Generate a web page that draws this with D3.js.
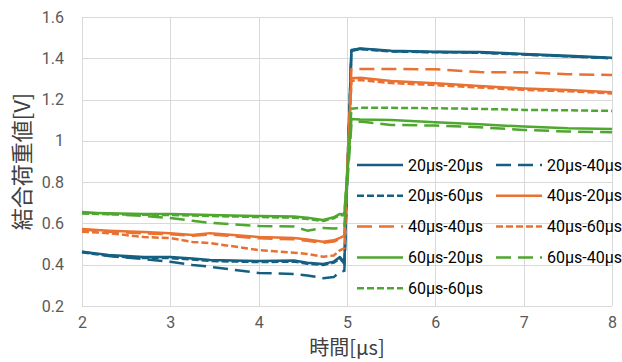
<!DOCTYPE html>
<html>
<head>
<meta charset="utf-8">
<script src="https://cdn.jsdelivr.net/npm/d3@7"></script>
<style>
  body { margin: 0; background: #fff; }
  svg { display: block; }
</style>
</head>
<body>
<div id="chart"></div>
<script>
// time axis [µs], shared by all series
var xs = [2, 2.3, 2.7, 3, 3.25, 3.45, 4, 4.4, 4.55, 4.73, 4.85, 4.92, 4.97,
  5.05, 5.15, 5.5, 6, 6.5, 7, 7.5, 8];

var names = ['20μs-20μs', '20μs-40μs', '20μs-60μs',
  '40μs-20μs', '40μs-40μs', '40μs-60μs',
  '60μs-20μs', '60μs-40μs', '60μs-60μs'];

var s20_20 = [0.463, 0.447, 0.437, 0.437, 0.43, 0.423, 0.418, 0.42, 0.41, 0.404, 0.415, 0.437, 0.41,
  1.44, 1.448, 1.436, 1.432, 1.43, 1.421, 1.412, 1.403];
var s20_40 = [0.463, 0.442, 0.427, 0.414, 0.399, 0.39, 0.36, 0.355, 0.348, 0.335, 0.34, 0.365, 0.37,
  1.438, 1.446, 1.434, 1.43, 1.428, 1.419, 1.41, 1.401];
var s20_60 = [0.46, 0.443, 0.432, 0.432, 0.425, 0.418, 0.413, 0.415, 0.405, 0.399, 0.41, 0.43, 0.405,
  1.436, 1.444, 1.433, 1.429, 1.427, 1.418, 1.409, 1.4];
var s40_20 = [0.573, 0.565, 0.558, 0.553, 0.544, 0.553, 0.534, 0.529, 0.522, 0.511, 0.518, 0.53, 0.54,
  1.303, 1.306, 1.29, 1.279, 1.266, 1.254, 1.246, 1.235];
var s40_40 = [0.57, 0.56, 0.552, 0.548, 0.54, 0.547, 0.528, 0.523, 0.516, 0.506, 0.512, 0.525, 0.535,
  1.348, 1.348, 1.348, 1.347, 1.333, 1.332, 1.323, 1.319];
var s40_60 = [0.56, 0.553, 0.534, 0.529, 0.51, 0.505, 0.471, 0.458, 0.452, 0.439, 0.445, 0.47, 0.48,
  1.29, 1.295, 1.28, 1.27, 1.258, 1.247, 1.24, 1.23];
var s60_20 = [0.652, 0.649, 0.646, 0.646, 0.643, 0.641, 0.636, 0.633, 0.628, 0.617, 0.63, 0.646, 0.645,
  1.106, 1.104, 1.101, 1.09, 1.08, 1.069, 1.061, 1.058];
var s60_40 = [0.655, 0.646, 0.636, 0.626, 0.613, 0.603, 0.588, 0.585, 0.565, 0.578, 0.575, 0.578, 0.585,
  1.08, 1.094, 1.077, 1.074, 1.066, 1.053, 1.045, 1.042];
var s60_60 = [0.648, 0.645, 0.642, 0.641, 0.638, 0.636, 0.631, 0.628, 0.622, 0.612, 0.625, 0.64, 0.64,
  1.155, 1.161, 1.16, 1.158, 1.155, 1.15, 1.148, 1.145];

var xTicks = [2, 3, 4, 5, 6, 7, 8];
var yTicks = [0.2, 0.4, 0.6, 0.8, 1, 1.2, 1.4, 1.6];

var width = 622, height = 362;
var margin = { top: 17, right: 10, bottom: 56, left: 82 };
var innerW = width - margin.left - margin.right;
var innerH = height - margin.top - margin.bottom;

var blue = '#156082', orange = '#E97132', green = '#4EA72E';
var solid = null, longDash = '15,7', shortDash = '7,3';

var seriesList = [
  { name: names[0], values: s20_20, color: blue, dash: solid },
  { name: names[1], values: s20_40, color: blue, dash: longDash },
  { name: names[2], values: s20_60, color: blue, dash: shortDash },
  { name: names[3], values: s40_20, color: orange, dash: solid },
  { name: names[4], values: s40_40, color: orange, dash: longDash },
  { name: names[5], values: s40_60, color: orange, dash: shortDash },
  { name: names[6], values: s60_20, color: green, dash: solid },
  { name: names[7], values: s60_40, color: green, dash: longDash },
  { name: names[8], values: s60_60, color: green, dash: shortDash }
];

var svg = d3.select('#chart').append('svg')
  .attr('width', width)
  .attr('height', height);

var g = svg.append('g')
  .attr('transform', 'translate(' + margin.left + ',' + margin.top + ')');

var x = d3.scaleLinear().domain([2, 8]).range([0, innerW]);
var y = d3.scaleLinear().domain([0.2, 1.6]).range([innerH, 0]);

// grid
g.append('g')
  .selectAll('line.h')
  .data(yTicks)
  .enter().append('line')
  .attr('x1', 0).attr('x2', innerW)
  .attr('y1', (d) => Math.round(y(d)) + 0.5)
  .attr('y2', (d) => Math.round(y(d)) + 0.5)
  .attr('stroke', '#d9d9d9');

g.append('g')
  .selectAll('line.v')
  .data(xTicks)
  .enter().append('line')
  .attr('y1', 0).attr('y2', innerH)
  .attr('x1', (d) => Math.round(x(d)) + 0.5)
  .attr('x2', (d) => Math.round(x(d)) + 0.5)
  .attr('stroke', '#d9d9d9');

// axes (labels only)
var yAxis = d3.axisLeft(y).tickValues(yTicks).tickSize(0).tickPadding(18)
  .tickFormat((d) => d3.format('')(+d.toFixed(1)));
var xAxis = d3.axisBottom(x).tickValues(xTicks).tickSize(0).tickPadding(11)
  .tickFormat(d3.format('d'));

var gy = g.append('g').call(yAxis);
var gx = g.append('g').attr('transform', 'translate(0,' + innerH + ')').call(xAxis);

[gy, gx].forEach(function(a) {
  a.select('.domain').remove();
  a.selectAll('text')
    .attr('fill', '#595959')
    .style('font-family', 'Roboto, "Liberation Sans", sans-serif')
    .style('font-size', '16px');
});

// lines
var line = d3.line()
  .x((d, i) => x(xs[i]))
  .y((d) => y(d));

g.append('g')
  .selectAll('path')
  .data(seriesList)
  .enter().append('path')
  .attr('d', (d) => line(d.values))
  .attr('fill', 'none')
  .attr('stroke', (d) => d.color)
  .attr('stroke-width', 2.5)
  .attr('stroke-dasharray', (d) => d.dash)
  .attr('stroke-linejoin', 'round');

// legend, two columns
var legend = svg.append('g');
var item = legend.selectAll('g')
  .data(seriesList)
  .enter().append('g')
  .attr('transform', function(d, i) {
    var col = i % 2, row = Math.floor(i / 2);
    return 'translate(' + (357 + col * 139) + ',' + (165 + row * 30.8) + ')';
  });

item.append('line')
  .attr('x1', 0).attr('x2', 46)
  .attr('stroke', (d) => d.color)
  .attr('stroke-width', 2.5)
  .attr('stroke-dasharray', (d) => d.dash);

item.append('text')
  .attr('x', 51)
  .attr('dy', '0.35em')
  .attr('fill', '#000')
  .style('font-family', 'Roboto, "Liberation Sans", sans-serif')
  .style('font-size', '16px')
  .text((d) => d.name);

// axis titles
svg.append('text')
  .attr('x', margin.left + innerW / 2)
  .attr('y', 355)
  .attr('text-anchor', 'middle')
  .attr('fill', '#404040')
  .style('font-family', '"Noto Sans CJK JP", sans-serif')
  .style('font-size', '20px')
  .text('時間[μs]');

svg.append('text')
  .attr('transform', 'translate(30,' + (margin.top + innerH / 2) + ') rotate(-90)')
  .attr('text-anchor', 'middle')
  .attr('fill', '#404040')
  .style('font-family', '"Noto Sans CJK JP", sans-serif')
  .style('font-size', '22px')
  .text('結合荷重値[V]');
</script>
</body>
</html>
